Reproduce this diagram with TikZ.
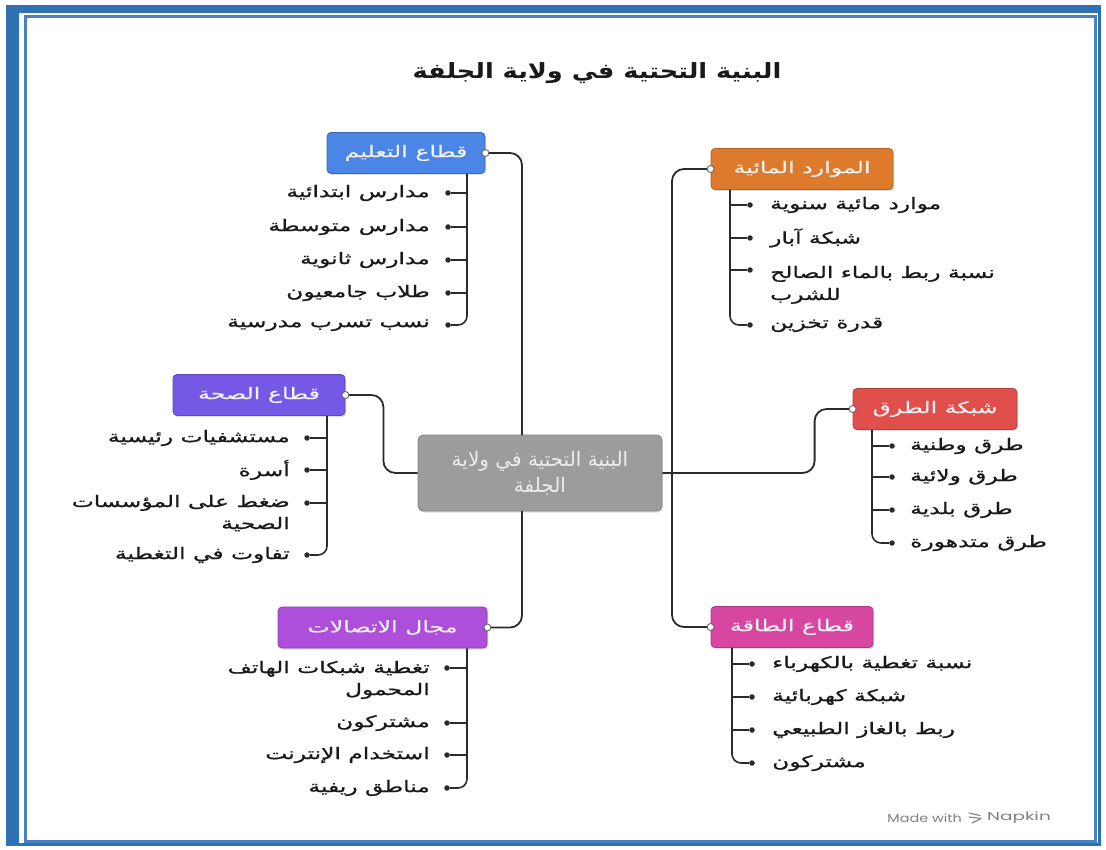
\documentclass[tikz,border=0pt]{standalone}
\usepackage{fontspec}
\setmainfont{DejaVu Sans}
\newfontfamily\ar[Script=Arabic]{DejaVu Sans}
\newfontfamily\arw[Script=Arabic, FakeStretch=1.46, FakeBold=0.9]{DejaVu Sans}
\newfontfamily\arlab[Script=Arabic, FakeStretch=1.48, FakeBold=0.4]{DejaVu Sans}
\newfontfamily\artitle[Script=Arabic, FakeStretch=1.22]{DejaVu Sans}
\newfontfamily\napfont{Poppins}
\TeXXeTstate=1
\usetikzlibrary{calc,shadows}
\newcommand{\arl}[1]{\beginR #1\endR}
\definecolor{frameblue}{HTML}{2E72B4}
\definecolor{innerblue}{HTML}{4A82C4}
\definecolor{edublue}{HTML}{4B85E6}
\definecolor{waterorg}{HTML}{DD7A2B}
\definecolor{healthpur}{HTML}{7658E6}
\definecolor{roadred}{HTML}{E04F4B}
\definecolor{compur}{HTML}{AE4FDC}
\definecolor{enpink}{HTML}{D747A2}
\definecolor{centergray}{HTML}{9C9C9C}
\definecolor{linec}{HTML}{2B2B2B}
\begin{document}
\begin{tikzpicture}[x=1pt,y=-1pt,
  cat/.style={fill=#1, draw=#1!80!black, line width=0.8pt, rounded corners=4pt,
    text=white!95!black, font=\arlab\fontsize{16}{19}\selectfont, minimum height=41pt,
    inner sep=0pt, drop shadow={shadow xshift=1pt, shadow yshift=-1.5pt, opacity=0.25}},
  item/.style={font=\arw\fontsize{16}{22}\selectfont, text=black!90, inner sep=0pt},
  conn/.style={draw=linec, line width=1.8pt, rounded corners=12pt},
  sub/.style={draw=linec, line width=1.6pt, rounded corners=9pt},
  dot/.style={circle, fill=linec, inner sep=0pt, minimum size=5.5pt},
  port/.style={circle, fill=white, draw=gray!80!black, line width=0.9pt, inner sep=0pt, minimum size=7pt}]
\useasboundingbox (0,0) rectangle (1106,850);
% frame
\fill[frameblue] (6,5) rectangle (1101,846);
\fill[white] (19,13) rectangle (1098,843);
\draw[innerblue, line width=3pt] (25,17) rectangle (1095,841);

% title
\node[font=\artitle\bfseries\fontsize{21}{24}\selectfont, text=black!90] (title) at (597,73) {\arl{البنية التحتية في ولاية الجلفة}};

% center
\node[fill=centergray, draw=centergray!85!black, line width=0.8pt, rounded corners=5pt,
  minimum width=244pt, minimum height=76pt, align=center, text=white!93!black,
  font=\ar\fontsize{20}{26}\selectfont, drop shadow={shadow xshift=1pt, shadow yshift=-1.5pt, opacity=0.25}]
  (center) at (540,473) {\arl{البنية التحتية في ولاية}\\\arl{الجلفة}};

% category boxes
\node[cat=edublue, minimum width=158pt] (edu) at (406,153) {\arl{قطاع التعليم}};
\node[cat=waterorg, minimum width=182pt] (water) at (802,169) {\arl{الموارد المائية}};
\node[cat=healthpur, minimum width=172pt] (health) at (259,395) {\arl{قطاع الصحة}};
\node[cat=roadred, minimum width=164pt] (road) at (935,409) {\arl{شبكة الطرق}};
\node[cat=compur, minimum width=209pt] (com) at (382.5,627.5) {\arl{مجال الاتصالات}};
\node[cat=enpink, minimum width=162pt] (energy) at (792,627) {\arl{قطاع الطاقة}};

% main connectors
\coordinate (cu) at (522,435);
\coordinate (cd) at (522,511);
\coordinate (rj) at (672,473);
\draw[conn] (cu) |- (edu.east);
\draw[conn] (cd) |- (com.east);
\draw[conn] (rj) |- (water.west);
\draw[conn] (rj) |- (energy.west);
\draw[conn] (center.west) -| ($(health.east)+(38,0)$) -- (health.east);
\draw[conn] (center.east) -| ($(road.west)+(-38,0)$) -- (road.west);
\foreach \n/\a in {edu/east, com/east, health/east, water/west, road/west, energy/west}
  \node[port] at (\n.\a) {};

% ---------- education items
\coordinate (ex) at (467,0);
\node[item, anchor=east] (e1) at (430,193) {\arl{مدارس ابتدائية}};
\node[item, anchor=east] (e2) at (430,227) {\arl{مدارس متوسطة}};
\node[item, anchor=east] (e3) at (430,260) {\arl{مدارس ثانوية}};
\node[item, anchor=east] (e4) at (430,293) {\arl{طلاب جامعيون}};
\node[item, anchor=east] (e5) at (430,325) {\arl{نسب تسرب مدرسية}};
\foreach \i/\y in {1/193,2/227,3/260,4/293,5/325}
  \node[dot] (e\i d) at (448,\y) {};
\draw[sub] (edu.south -| ex) |- (e5d);
\foreach \i in {1,2,3,4} \draw[sub] (e\i d) -- (e\i d -| ex);

% ---------- health items
\coordinate (hx) at (327,0);
\node[item, anchor=east] (h1) at (290,438) {\arl{مستشفيات رئيسية}};
\node[item, anchor=east] (h2) at (290,470) {\arl{أسرة}};
\node[item, anchor=base east, align=right] (h3) at (290,529) {\arl{ضغط على المؤسسات}\\\arl{الصحية}};
\node[item, anchor=east] (h4) at (290,555) {\arl{تفاوت في التغطية}};
\foreach \i/\y in {1/438,2/470,3/503,4/555}
  \node[dot] (h\i d) at (307,\y) {};
\draw[sub] (health.south -| hx) |- (h4d);
\foreach \i in {1,2,3} \draw[sub] (h\i d) -- (h\i d -| hx);

% ---------- communication items
\coordinate (cx) at (467,0);
\node[item, anchor=base east, align=right] (c1) at (430,695) {\arl{تغطية شبكات الهاتف}\\\arl{المحمول}};
\node[item, anchor=east] (c2) at (430,723) {\arl{مشتركون}};
\node[item, anchor=east] (c3) at (430,755) {\arl{استخدام الإنترنت}};
\node[item, anchor=east] (c4) at (430,788) {\arl{مناطق ريفية}};
\foreach \i/\y in {1/668,2/723,3/755,4/788}
  \node[dot] (c\i d) at (447,\y) {};
\draw[sub] (com.south -| cx) |- (c4d);
\foreach \i in {1,2,3} \draw[sub] (c\i d) -- (c\i d -| cx);

% ---------- water items
\coordinate (wx) at (730,0);
\node[item, anchor=west] (w1) at (770,205) {\arl{موارد مائية سنوية}};
\node[item, anchor=west] (w2) at (770,238) {\arl{شبكة آبار}};
\node[item, anchor=base west, align=left] (w3) at (770,300) {\arl{نسبة ربط بالماء الصالح}\\\arl{للشرب}};
\node[item, anchor=west] (w4) at (770,325) {\arl{قدرة تخزين}};
\foreach \i/\y in {1/205,2/238,3/270,4/325}
  \node[dot] (w\i d) at (750,\y) {};
\draw[sub] (water.south -| wx) |- (w4d);
\foreach \i in {1,2,3} \draw[sub] (w\i d) -- (w\i d -| wx);

% ---------- road items
\coordinate (rx) at (872,0);
\node[item, anchor=west] (r1) at (910,446) {\arl{طرق وطنية}};
\node[item, anchor=west] (r2) at (910,477) {\arl{طرق ولائية}};
\node[item, anchor=west] (r3) at (910,510) {\arl{طرق بلدية}};
\node[item, anchor=west] (r4) at (910,543) {\arl{طرق متدهورة}};
\foreach \i/\y in {1/446,2/477,3/510,4/543}
  \node[dot] (r\i d) at (892,\y) {};
\draw[sub] (road.south -| rx) |- (r4d);
\foreach \i in {1,2,3} \draw[sub] (r\i d) -- (r\i d -| rx);

% ---------- energy items
\coordinate (nx) at (732,0);
\node[item, anchor=west] (n1) at (772,664) {\arl{نسبة تغطية بالكهرباء}};
\node[item, anchor=west] (n2) at (772,697) {\arl{شبكة كهربائية}};
\node[item, anchor=west] (n3) at (772,730) {\arl{ربط بالغاز الطبيعي}};
\node[item, anchor=west] (n4) at (772,763) {\arl{مشتركون}};
\foreach \i/\y in {1/664,2/697,3/730,4/763}
  \node[dot] (n\i d) at (752,\y) {};
\draw[sub] (energy.south -| nx) |- (n4d);
\foreach \i in {1,2,3} \draw[sub] (n\i d) -- (n\i d -| nx);

% ---------- Napkin mark
\node[font=\napfont\fontsize{11.5}{13}\selectfont, text=gray, anchor=east, inner sep=0pt] (made) at (962,818) {\scalebox{1.25}[1]{Made with}};
\node[font=\napfont\fontsize{11.5}{13}\selectfont, text=gray, anchor=west, inner sep=0pt] (napkin) at (987,818) {\scalebox{1.6}[1]{Napkin}};
\draw[gray, line width=1.1pt, line cap=round] (969,813) -- (980,815.5) (969,817) -- (981,818.5) (972,823) -- (981,818.5);
\end{tikzpicture}
\end{document}
